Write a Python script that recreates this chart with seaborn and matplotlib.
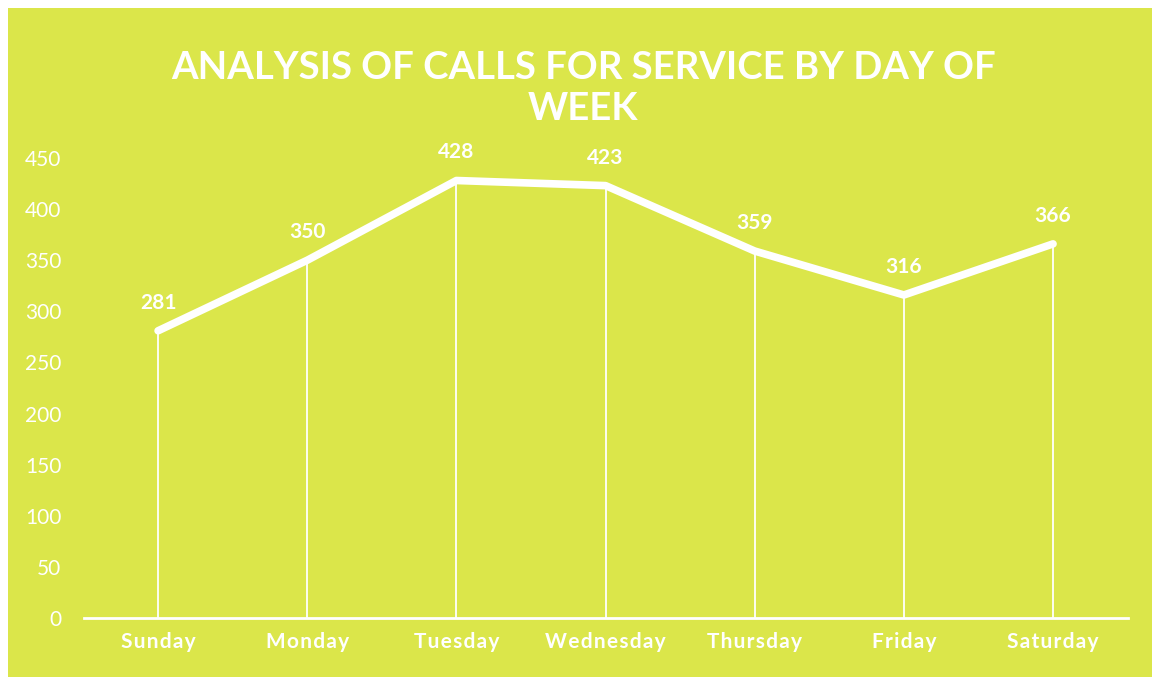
import matplotlib
matplotlib.use("Agg")
import matplotlib.pyplot as plt
import seaborn as sns
import pandas as pd
from matplotlib.patches import Rectangle

# chart values
days = ["Sunday", "Monday", "Tuesday", "Wednesday", "Thursday", "Friday", "Saturday"]
calls = [281, 350, 428, 423, 359, 316, 366]
y_ticks = [0, 50, 100, 150, 200, 250, 300, 350, 400, 450]

bg = "#dbe64a"
df = pd.DataFrame({"day": days, "calls": calls})
df["pos"] = range(len(days))

sns.set_theme(style="white")
plt.rcParams['font.family'] = ['Lato', 'DejaVu Sans']

fig = plt.figure(figsize=(11.55, 6.77), dpi=100)
fig.patch.set_facecolor("white")
# yellow card with a thin white margin like the scan
fig.patches.append(Rectangle((0.007, 0.0), 0.99, 0.988, transform=fig.transFigure,
                             facecolor=bg, edgecolor="none", zorder=-10))

ax = fig.add_axes([0.0723, 0.0871, 0.904, 0.6795])
ax.set_facecolor("none")
ax.set_zorder(5)

# drop lines from each point to the baseline
ax.vlines(df["pos"], 0, df["calls"], color="white", linewidth=1.3)
sns.lineplot(data=df, x="pos", y="calls", ax=ax, color="white", linewidth=5.5,
             solid_joinstyle="round", solid_capstyle="round")

for p, v in zip(df["pos"], df["calls"]):
    ax.annotate(str(v), (p, v), xytext=(0, 13), textcoords="offset points",
                ha="center", va="bottom", color="white", fontsize=15, fontweight="bold")

ax.set_xlim(-0.5, len(days) - 0.5)
ax.set_ylim(0, 450)
ax.set_yticks(y_ticks)
ax.set_yticklabels([str(t) for t in y_ticks], color="white", fontsize=15)
ax.set_xticks(df["pos"])
ax.set_xticklabels(["\u200a".join(d) for d in days], color="white", fontsize=15, fontweight="bold")
ax.tick_params(axis="both", length=0, pad=10)
ax.tick_params(axis="y", pad=16)
ax.set_xlabel("")
ax.set_ylabel("")

for s in ["top", "right", "left"]:
    ax.spines[s].set_visible(False)
ax.spines["bottom"].set_color("white")
ax.spines["bottom"].set_linewidth(2)
ax.spines["bottom"].set_bounds(-0.5, len(days) - 0.5)

fig.text(0.505, 0.87, "ANALYSIS OF CALLS FOR SERVICE BY DAY OF\nWEEK", ha="center", va="center",
         color="white", fontsize=27.5, fontweight="bold", linespacing=1.25)

fig.savefig("out.png", dpi=100)
